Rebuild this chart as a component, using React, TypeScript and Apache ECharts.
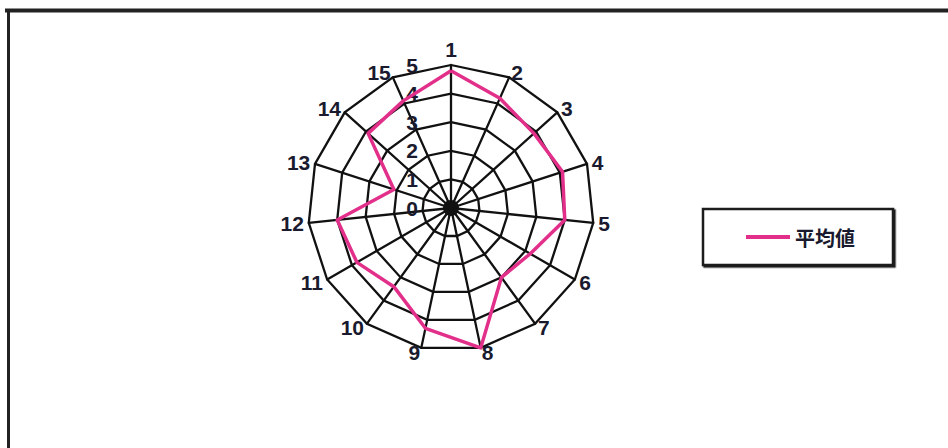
import React, { useEffect, useRef } from "react";
import * as echarts from "echarts";

const categories = ["1", "2", "3", "4", "5", "6", "7", "8", "9", "10", "11", "12", "13", "14", "15"];
const averageValues = [4.8, 4.2, 3.9, 4.1, 4.0, 3.2, 3.0, 5.0, 4.3, 3.4, 3.8, 4.0, 2.1, 3.9, 4.1];
const seriesName = "平均値";
const axisMin = 0;
const axisMax = 5;
const splitCount = 5;

const CENTER = [451, 208];
const LINE_COLOR = "#e2308a";
const INK = "#1a1a2e";
const NUM_FONT = "'Liberation Sans Narrow', 'Liberation Sans', Arial, sans-serif";

export default function App() {
  const ref = useRef<HTMLDivElement>(null);

  useEffect(() => {
    if (!ref.current) return;
    const chart = echarts.init(ref.current, null, { renderer: "svg" });
    // ECharts radar runs counter-clockwise; reorder so categories run clockwise from the top.
    const order = [0, ...categories.map((_, i) => i).slice(1).reverse()];
    const indicator = order.map((i, k) => ({
      name: categories[i],
      min: axisMin,
      max: axisMax,
      ...(k === 0 ? { axisLabel: { show: true } } : {}),
    }));
    const values = order.map((i) => averageValues[i]);

    chart.setOption({
      animation: false,
      backgroundColor: "#ffffff",
      graphic: [
        {
          type: "line",
          shape: { x1: 5, y1: 10.5, x2: 948, y2: 10.5 },
          style: { stroke: "#222", lineWidth: 4 },
          z: 100,
        },
        {
          type: "line",
          shape: { x1: 8.5, y1: 9, x2: 8.5, y2: 448 },
          style: { stroke: "#222", lineWidth: 3 },
          z: 100,
        },
        {
          type: "circle",
          shape: { cx: CENTER[0], cy: CENTER[1], r: 8 },
          style: { fill: "#111" },
          z: 1,
        },
      ],
      legend: {
        left: 703,
        top: 209,
        orient: "vertical",
        padding: [18, 38, 18, 43],
        borderColor: "#1a1a1a",
        borderWidth: 2.5,
        backgroundColor: "#ffffff",
        shadowColor: "#1a1a1a",
        shadowBlur: 0,
        shadowOffsetX: 1.5,
        shadowOffsetY: 1.5,
        itemWidth: 44,
        itemHeight: 4,
        icon: "rect",
        itemStyle: { color: LINE_COLOR, borderWidth: 0 },
        textStyle: {
          color: INK,
          fontSize: 20,
          fontWeight: "bold",
          fontFamily: "'Noto Sans CJK JP', sans-serif",
        },
        data: [seriesName],
      },
      radar: {
        center: CENTER,
        radius: 143,
        startAngle: 90,
        shape: "polygon",
        splitNumber: splitCount,
        nameGap: 5,
        axisName: {
          color: INK,
          fontSize: 21,
          fontWeight: "bold",
          fontFamily: NUM_FONT,
        },
        indicator,
        axisLine: { show: true, lineStyle: { color: "#111", width: 2.3 } },
        splitLine: { show: true, lineStyle: { color: "#111", width: 2.3 } },
        splitArea: { show: false },
        axisTick: { show: false },
        axisLabel: {
          show: false,
          margin: 33,
          color: INK,
          fontSize: 21,
          fontWeight: "bold",
          fontFamily: NUM_FONT,
        },
      },
      series: [
        {
          type: "radar",
          name: seriesName,
          symbol: "none",
          z: 5,
          lineStyle: { color: LINE_COLOR, width: 3.5 },
          itemStyle: { color: LINE_COLOR },
          data: [{ name: seriesName, value: values }],
        },
      ],
    });

    return () => chart.dispose();
  }, []);

  return (
    <div
      ref={ref}
      style={{ position: "fixed", left: 0, top: 0, width: 948, height: 448, background: "#fff" }}
    />
  );
}
